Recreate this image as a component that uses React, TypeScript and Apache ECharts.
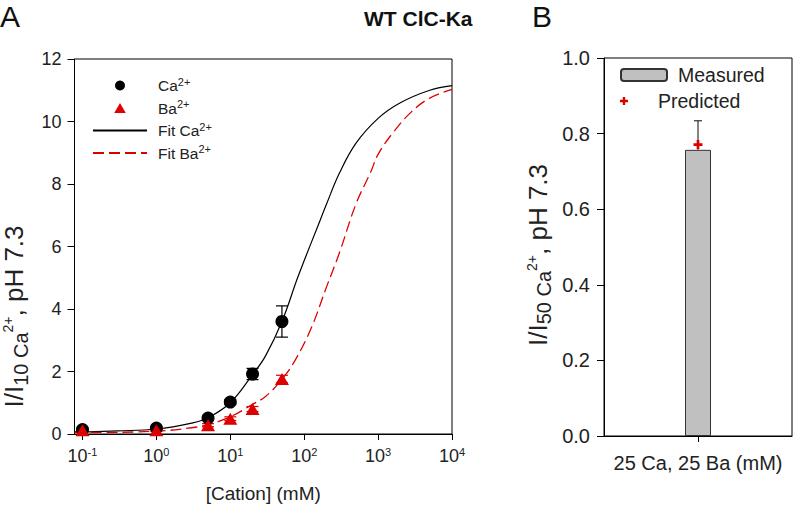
import React, { useEffect, useRef } from "react";
import * as echarts from "echarts";

// ---- Panel A data ----
const caConc = [0.1, 1, 5, 10, 20, 50];
const caMean = [0.14, 0.19, 0.51, 1.02, 1.92, 3.6];
const caErr = [0.05, 0.04, 0.06, 0.08, 0.18, 0.5];
const baConc = [0.1, 1, 5, 10, 20, 50];
const baMean = [0.12, 0.12, 0.28, 0.49, 0.8, 1.76];
const baErr = [0.04, 0.03, 0.05, 0.06, 0.08, 0.12];

const fitCaX = [0.078, 0.1, 0.3, 1, 3, 5, 10, 20, 30, 50, 80, 100, 150, 200, 300, 500, 1000, 2000, 5000, 10000];
const fitCaY = [0.07, 0.07, 0.1, 0.16, 0.35, 0.52, 1.0, 1.9, 2.5, 3.6, 4.95, 5.55, 6.6, 7.35, 8.35, 9.3, 10.1, 10.6, 11.0, 11.15];
const fitBaX = [0.078, 0.1, 1, 3, 5, 10, 20, 30, 50, 75, 125, 200, 300, 500, 800, 1000, 1600, 2800, 5000, 10000];
const fitBaY = [0.05, 0.05, 0.09, 0.2, 0.3, 0.55, 0.95, 1.2, 1.75, 2.35, 3.4, 4.7, 5.8, 7.35, 8.4, 8.95, 9.65, 10.3, 10.75, 11.03];

const xTicksA = [0.1, 1, 10, 100, 1000, 10000];

// ---- Panel B data ----
const catB = ["25 Ca, 25 Ba (mM)"];
const measured = [0.757];
const measuredErr = [0.077];
const predicted = [0.771];

const FONT = "Liberation Sans, Arial, sans-serif";
const RED = "#dd0000";
const TXT = "#222";

const nameRich = {
  m: { fontSize: 26, color: TXT, fontFamily: FONT },
  sub: { fontSize: 20, padding: [13, 0, 0, 0], color: TXT, fontFamily: FONT },
  sup: { fontSize: 14, padding: [0, 0, 12, 0], color: TXT, fontFamily: FONT },
};

const triPath = "path://M5,0L10,8.66L0,8.66Z";
const plusPath = "path://M3.5,0h3v3.5h3.5v3h-3.5v3.5h-3v-3.5h-3.5v-3h3.5z";

export default function App() {
  const ref = useRef<HTMLDivElement>(null);
  useEffect(() => {
    const chart = echarts.init(ref.current!, null, { renderer: "svg" });

    const errRender = (color: string, capHalf: number, topOnly: boolean) => (params: any, api: any) => {
      const x = api.value(0);
      const lo = api.value(1);
      const hi = api.value(2);
      const p1 = api.coord([x, lo]);
      const p2 = api.coord([x, hi]);
      const st = { stroke: color, lineWidth: 1.2 };
      const children: any[] = [
        { type: "line", shape: { x1: p1[0], y1: p1[1], x2: p2[0], y2: p2[1] }, style: st },
        { type: "line", shape: { x1: p2[0] - capHalf, y1: p2[1], x2: p2[0] + capHalf, y2: p2[1] }, style: st },
      ];
      if (!topOnly) {
        children.push({ type: "line", shape: { x1: p1[0] - capHalf, y1: p1[1], x2: p1[0] + capHalf, y2: p1[1] }, style: st });
      }
      return { type: "group", children };
    };

    const option: any = {
      animation: false,
      textStyle: { fontFamily: FONT },
      title: [
        { text: "A", left: 0, top: 1, padding: 0, textStyle: { fontSize: 30, fontWeight: "normal", color: "#111", fontFamily: FONT } },
        { text: "B", left: 532, top: 1, padding: 0, textStyle: { fontSize: 30, fontWeight: "normal", color: "#111", fontFamily: FONT } },
        { text: "WT ClC-Ka", left: 364, top: 8, padding: 0, textStyle: { fontSize: 21, fontWeight: "bold", color: "#111", fontFamily: FONT } },
      ],
      grid: [
        { left: 73, top: 59, width: 379, height: 377, show: true, borderColor: "#000", borderWidth: 1, backgroundColor: "transparent" },
        { left: 604, top: 58, width: 188, height: 378, show: true, borderColor: "#000", borderWidth: 1, backgroundColor: "transparent" },
      ],
      legend: [
        {
          orient: "vertical",
          left: 92,
          top: 76,
          padding: 0,
          itemWidth: 54,
          itemHeight: 10,
          itemGap: 5,
          symbolKeepAspect: true,
          data: [
            { name: "Ca2+" },
            { name: "Ba2+", icon: triPath },
            { name: "Fit Ca2+", itemStyle: { opacity: 0 } },
            { name: "Fit Ba2+", itemStyle: { opacity: 0 } },
          ],
          formatter: (n: string) => `{b|${n.replace("2+", "")}}{sup|2+}`,
          textStyle: {
            fontSize: 15.5,
            color: TXT,
            fontFamily: FONT,
            padding: [0, 0, 0, 6],
            rich: {
              b: { fontSize: 15.5, color: TXT, fontFamily: FONT },
              sup: { fontSize: 11, padding: [0, 0, 8, 0], color: TXT, fontFamily: FONT },
            },
          },
        },
        {
          orient: "vertical",
          left: 620,
          top: 65,
          padding: 0,
          itemWidth: 46,
          itemHeight: 12,
          data: ["Measured"],
          textStyle: { fontSize: 19.5, color: TXT, fontFamily: FONT, padding: [0, 0, 0, 6] },
        },
        {
          orient: "vertical",
          left: 620,
          top: 91,
          padding: 0,
          itemWidth: 46,
          itemHeight: 8,
          symbolKeepAspect: true,
          data: ["Predicted"],
          textStyle: { fontSize: 19.5, color: TXT, fontFamily: FONT, padding: [0, 0, 0, 6] },
        },
      ],
      xAxis: [
        {
          gridIndex: 0,
          type: "log",
          logBase: 10,
          min: 0.078,
          max: 10000,
          name: "[Cation] (mM)",
          nameLocation: "middle",
          nameGap: 50,
          nameTextStyle: { fontSize: 19, color: TXT, fontFamily: FONT },
          axisLine: { show: true, lineStyle: { color: "#000", width: 1 } },
          axisTick: { show: true, length: 6, inside: false, lineStyle: { color: "#000" }, customValues: xTicksA },
          axisLabel: {
            customValues: xTicksA,
            margin: 12,
            fontSize: 18,
            color: TXT,
            fontFamily: FONT,
            formatter: (v: number) => `10{sup|${Math.round(Math.log10(v))}}`,
            rich: { sup: { fontSize: 11, padding: [0, 0, 9, 0], fontFamily: FONT, color: TXT } },
          },
          splitLine: { show: false },
          minorTick: { show: false },
        },
        {
          gridIndex: 1,
          type: "category",
          data: catB,
          axisLine: { show: true, lineStyle: { color: "#000", width: 1 } },
          axisTick: { show: true, length: 6, alignWithLabel: true, lineStyle: { color: "#000" } },
          axisLabel: { margin: 17, fontSize: 20, color: TXT, fontFamily: FONT },
        },
      ],
      yAxis: [
        {
          gridIndex: 0,
          type: "value",
          min: 0,
          max: 12,
          interval: 2,
          name: "{m|I/I}{sub|10 Ca}{sup|2+}{m|, pH 7.3}",
          nameLocation: "middle",
          nameGap: 44,
          nameRotate: 90,
          nameTextStyle: { fontSize: 26, color: TXT, fontFamily: FONT, rich: nameRich, padding: [0, 140, 0, 0] },
          axisLine: { show: true, lineStyle: { color: "#000", width: 1 } },
          axisTick: { show: true, length: 7, inside: false, lineStyle: { color: "#000" } },
          axisLabel: { margin: 13, fontSize: 18, color: TXT, fontFamily: FONT },
          splitLine: { show: false },
        },
        {
          gridIndex: 1,
          type: "value",
          min: 0,
          max: 1,
          interval: 0.2,
          name: "{m|I/I}{sub|50 Ca}{sup|2+}{m|, pH 7.3}",
          nameLocation: "middle",
          nameGap: 50,
          nameRotate: 90,
          nameTextStyle: { fontSize: 26, color: TXT, fontFamily: FONT, rich: nameRich, padding: [0, 16, 0, 0] },
          axisLine: { show: true, lineStyle: { color: "#000", width: 1 } },
          axisTick: { show: true, length: 7, inside: false, lineStyle: { color: "#000" } },
          axisLabel: { margin: 14, fontSize: 20, color: TXT, fontFamily: FONT, formatter: (v: number) => v.toFixed(1) },
          splitLine: { show: false },
        },
      ],
      series: [
        {
          name: "Fit Ca2+",
          type: "line",
          xAxisIndex: 0,
          yAxisIndex: 0,
          data: fitCaX.map((x, i) => [x, fitCaY[i]]),
          smooth: 0.4,
          symbol: "none",
          lineStyle: { color: "#000", width: 1.2 },
          itemStyle: { color: "#000" },
          z: 2,
        },
        {
          name: "Fit Ba2+",
          type: "line",
          xAxisIndex: 0,
          yAxisIndex: 0,
          data: fitBaX.map((x, i) => [x, fitBaY[i]]),
          smooth: 0.4,
          symbol: "none",
          lineStyle: { color: RED, width: 1.3, type: [11, 5] },
          itemStyle: { color: RED },
          z: 2,
        },
        {
          type: "custom",
          xAxisIndex: 0,
          yAxisIndex: 0,
          renderItem: errRender("#000", 6, false),
          data: caConc.map((x, i) => [x, caMean[i] - caErr[i], caMean[i] + caErr[i]]),
          z: 3,
          silent: true,
        },
        {
          type: "custom",
          xAxisIndex: 0,
          yAxisIndex: 0,
          renderItem: errRender(RED, 6, false),
          data: baConc.map((x, i) => [x, baMean[i] - baErr[i], baMean[i] + baErr[i]]),
          z: 3,
          silent: true,
        },
        {
          name: "Ca2+",
          type: "scatter",
          xAxisIndex: 0,
          yAxisIndex: 0,
          data: caConc.map((x, i) => [x, caMean[i]]),
          symbol: "circle",
          symbolSize: 13,
          itemStyle: { color: "#000", opacity: 1 },
          z: 5,
        },
        {
          name: "Ba2+",
          type: "scatter",
          xAxisIndex: 0,
          yAxisIndex: 0,
          data: baConc.map((x, i) => [x, baMean[i]]),
          symbol: triPath,
          symbolSize: [14, 12],
          itemStyle: { color: RED, opacity: 1 },
          z: 5,
        },
        {
          name: "Measured",
          type: "bar",
          xAxisIndex: 1,
          yAxisIndex: 1,
          data: measured,
          barWidth: 26,
          itemStyle: { color: "#c0c0c0", borderColor: "#333", borderWidth: 1 },
          z: 2,
        },
        {
          type: "custom",
          xAxisIndex: 1,
          yAxisIndex: 1,
          renderItem: errRender("#333", 4, true),
          data: measured.map((v, i) => [i, v, v + measuredErr[i]]),
          z: 3,
          silent: true,
        },
        {
          name: "Predicted",
          type: "scatter",
          xAxisIndex: 1,
          yAxisIndex: 1,
          data: predicted.map((v, i) => [catB[i], v]),
          symbol: plusPath,
          symbolSize: 9,
          symbolKeepAspect: true,
          itemStyle: { color: RED, opacity: 1 },
          z: 5,
        },
      ],
    };
    chart.setOption(option);
    return () => chart.dispose();
  }, []);
  return <div ref={ref} style={{ width: 794, height: 508, position: "absolute", left: 0, top: 0 }} />;
}
